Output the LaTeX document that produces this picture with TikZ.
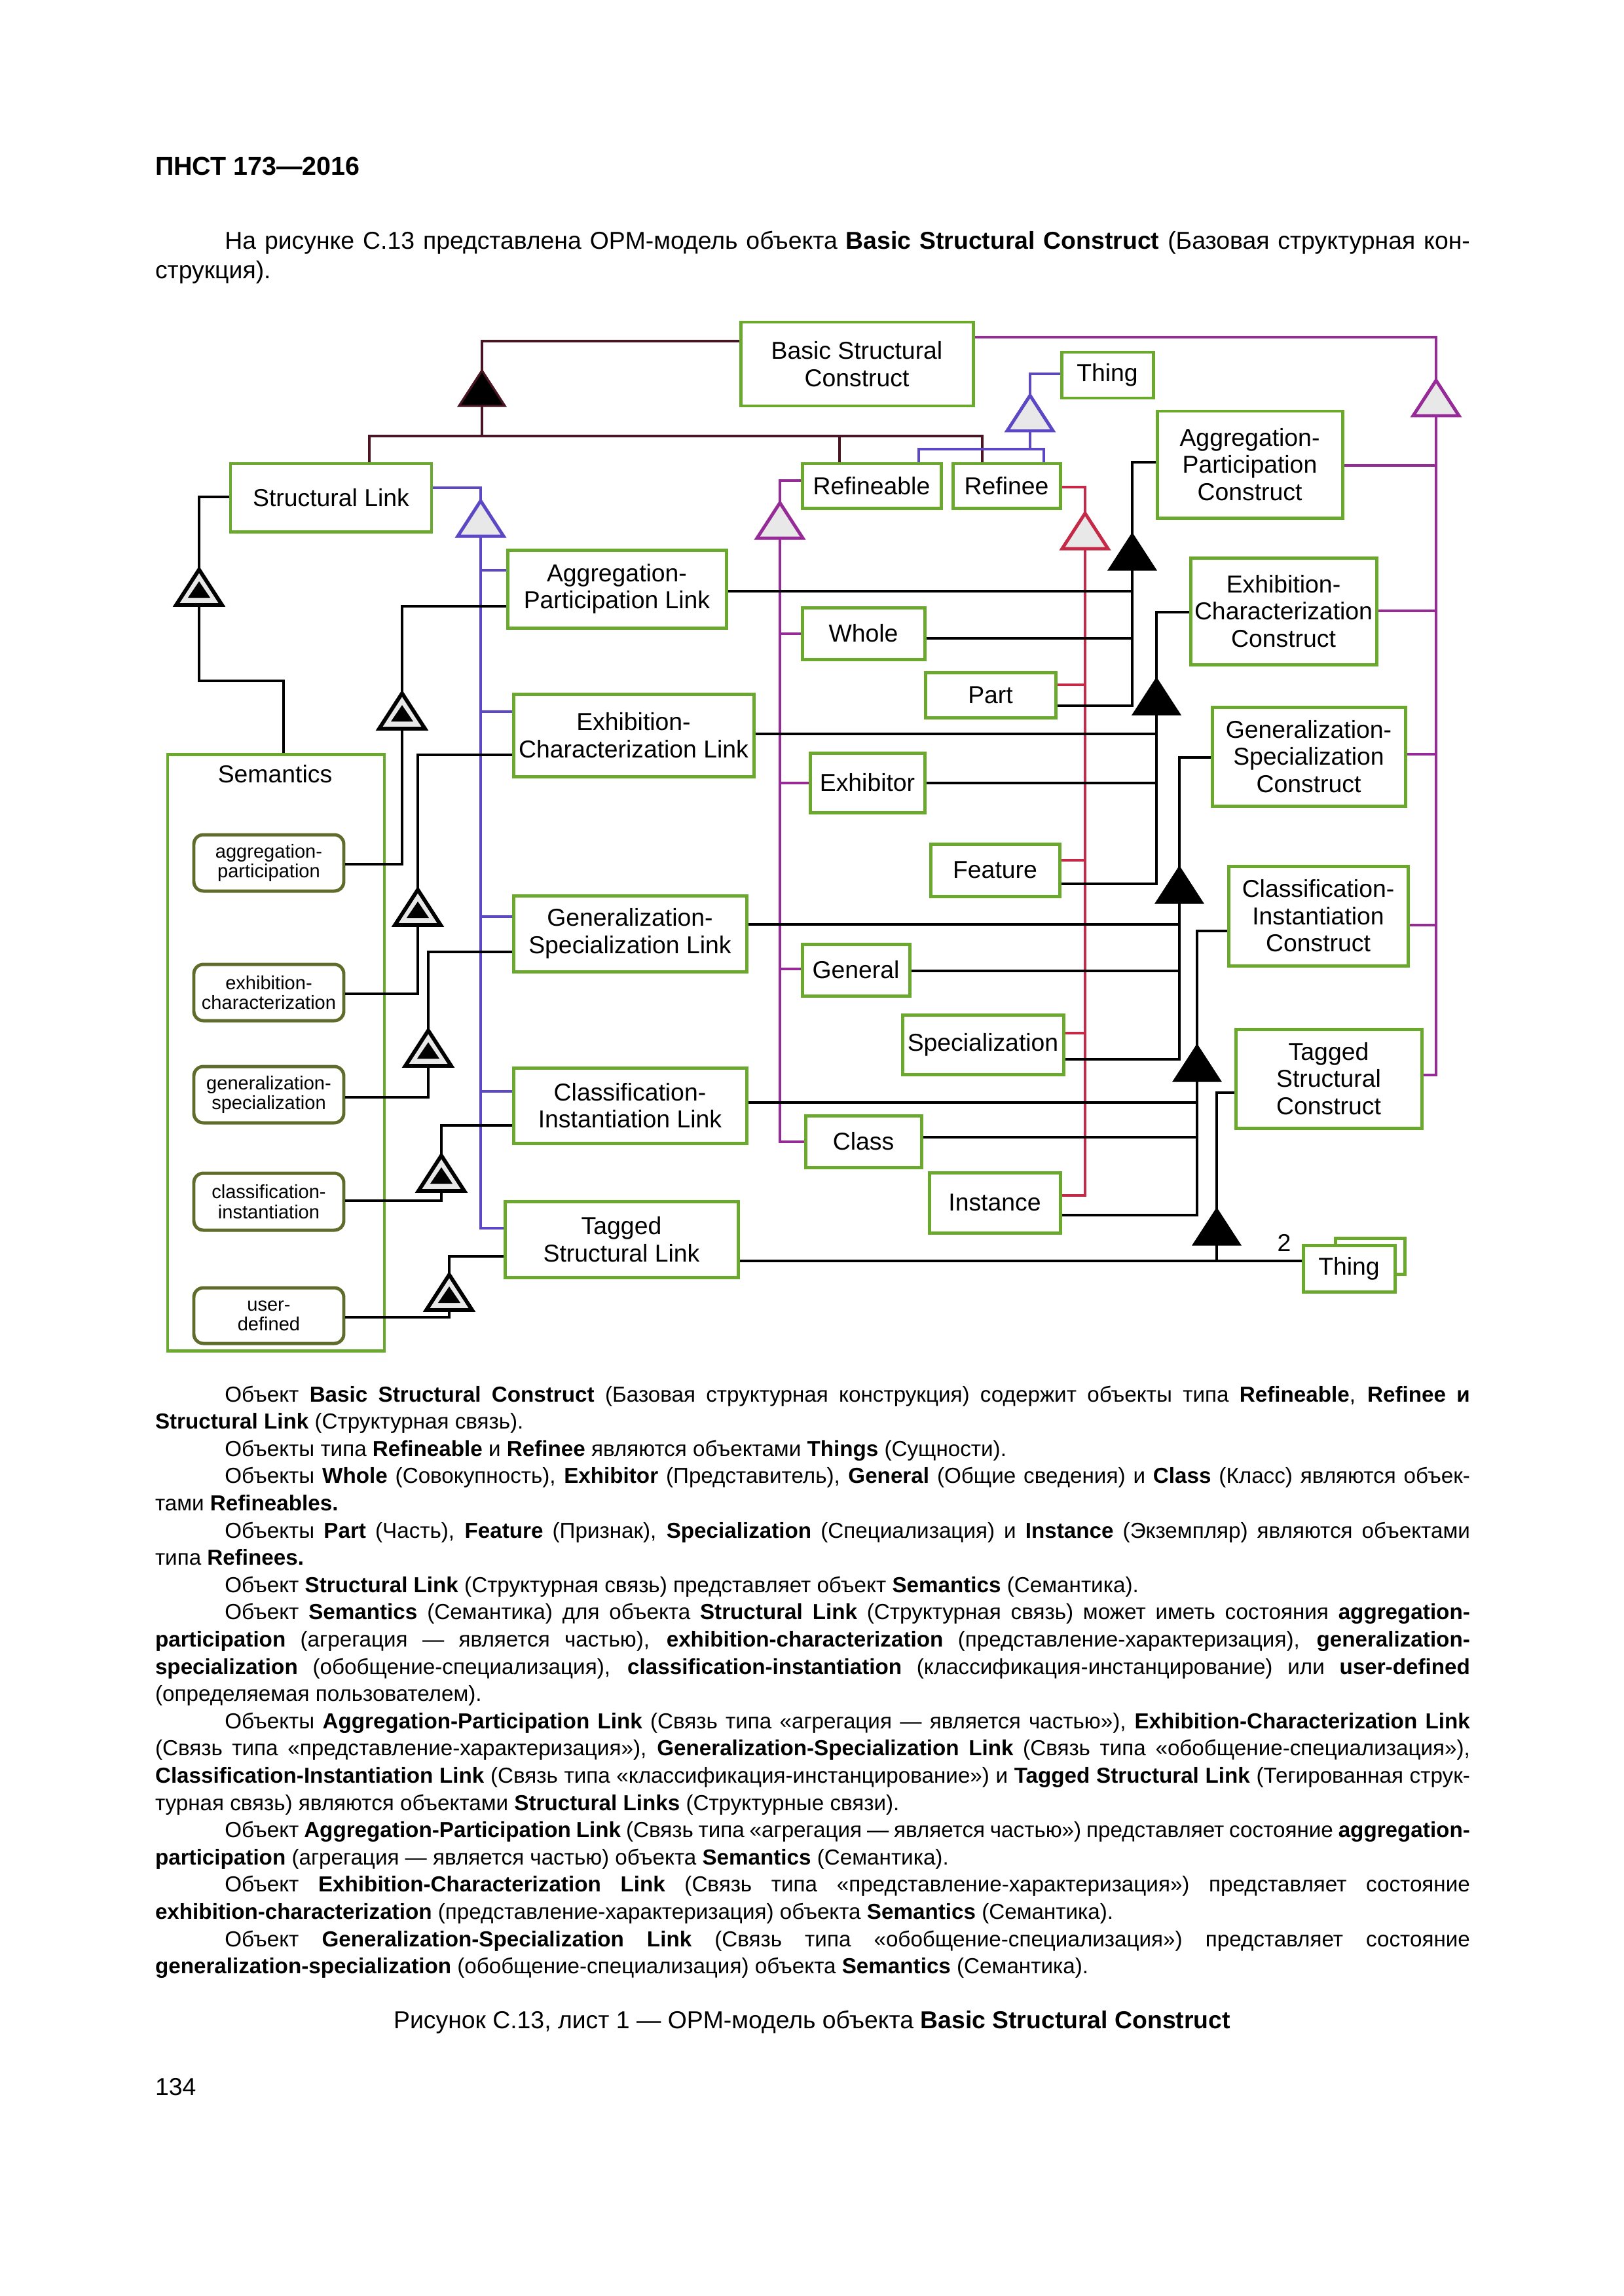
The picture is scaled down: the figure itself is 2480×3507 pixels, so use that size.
\documentclass[tikz,border=0pt]{standalone}
\usepackage{fontspec}
\setmainfont{Liberation Sans}

\definecolor{boxgreen}{RGB}{106,168,46}
\definecolor{stategreen}{RGB}{96,108,44}
\definecolor{oblue}{RGB}{92,72,196}
\definecolor{omag}{RGB}{150,42,150}
\definecolor{ored}{RGB}{196,42,72}
\definecolor{odark}{RGB}{72,22,34}
\definecolor{trigray}{RGB}{232,232,232}

\newlength{\pxu}
\setlength{\pxu}{0.0846774mm}
\newcommand{\fullline}[1]{\makebox[170mm][s]{#1}}
\newcommand{\indline}[1]{\makebox[161mm][s]{#1}}

\tikzset{
  gentri/.pic={\draw[fill=trigray, line width=1.2pt] (0,0) -- (-35,54) -- (35,54) -- cycle;
    \coordinate (-a) at (0,0); \coordinate (-b) at (0,54);},
  aggtri/.pic={\draw[fill=black, line width=0.8pt] (0,0) -- (-35,54) -- (35,54) -- cycle;
    \coordinate (-a) at (0,0); \coordinate (-b) at (0,54);},
  exhtri/.pic={\draw[fill=trigray, line width=1.4pt] (0,0) -- (-35,54) -- (35,54) -- cycle;
    \fill (0,18) -- (-17,43) -- (17,43) -- cycle;
    \coordinate (-a) at (0,0); \coordinate (-b) at (0,54);},
}

\begin{document}
\begin{tikzpicture}[x=\pxu, y=-0.0846774mm,
    sz/.style 2 args={minimum width=#1*\pxu, minimum height=#2*\pxu},
    dline/.style={draw=odark, line width=0.95pt},
    bline/.style={draw=oblue, line width=0.95pt},
    mline/.style={draw=omag, line width=0.95pt},
    rline/.style={draw=ored, line width=0.95pt},
    kline/.style={draw=black, line width=0.8pt},
    txt/.style={anchor=base west, inner sep=0pt, font=\fontsize{8}{10}\selectfont}]
    \tikzstyle{obj} = [draw=boxgreen, line width=1.2pt, fill=white, inner sep=0pt, align=center, font=\fontsize{9}{10}\selectfont]
    \tikzstyle{state} = [draw=stategreen, line width=1.2pt, fill=white, rounded corners=3.5pt, inner sep=0pt, align=center, font=\fontsize{7}{7.3}\selectfont]
    \tikzstyle{lbl} = [inner sep=0pt, font=\fontsize{9}{10}\selectfont]

    \path[fill=white, use as bounding box] (0,0) rectangle (2480,3507);

    % page head and intro
    \node[txt, font=\fontsize{9.5}{11}\selectfont\bfseries] (hdr) at (236.2,267) {ПНСТ 173—2016};
    \node[txt, font=\fontsize{9}{11}\selectfont] (intro1) at (342.5,380) {\indline{На рисунке С.13 представлена OPM-модель объекта \textbf{Basic Structural Construct} (Базовая структурная кон-}};
    \node[txt, font=\fontsize{9}{11}\selectfont] (intro2) at (236.2,425) {струкция).};

    % things of the model
    \node[obj, sz={355}{128}] (bsc) at (1308.5,556) {Basic Structural\\Construct};
    \node[obj, sz={140}{70}] (thingt) at (1691,573) {Thing};
    \node[obj, sz={212}{68}] (refineable) at (1331,742) {Refineable};
    \node[obj, sz={164}{68}] (refinee) at (1537,742) {Refinee};
    \node[obj, sz={307}{104}] (strlink) at (505.5,760) {Structural Link};

    % constructs (right column)
    \node[obj, sz={283}{163}] (apc) at (1908.5,709.5) {Aggregation-\\Participation\\Construct};
    \node[obj, sz={284}{163}] (eccons) at (1960,933.5) {Exhibition-\\Characterization\\Construct};
    \node[obj, sz={295}{151}] (gscons) at (1998.5,1155.5) {Generalization-\\Specialization\\Construct};
    \node[obj, sz={274}{152}] (cicons) at (2013,1399) {Classification-\\Instantiation\\Construct};
    \node[obj, sz={284}{151}] (tscons) at (2029,1647.5) {Tagged\\Structural\\Construct};

    % links (middle column)
    \node[obj, sz={334}{119}] (aplink) at (942,899.5) {Aggregation-\\Participation Link};
    \node[obj, sz={367}{126}] (eclink) at (967.5,1123) {Exhibition-\\Characterization Link};
    \node[obj, sz={356}{116}] (gslink) at (962,1426) {Generalization-\\Specialization Link};
    \node[obj, sz={356}{115}] (cilink) at (962,1688.5) {Classification-\\Instantiation Link};
    \node[obj, sz={356}{116}] (tlink) at (949,1893) {Tagged\\Structural Link};

    % refineables and refinees
    \node[obj, sz={187}{79}] (whole) at (1318.5,967.5) {Whole};
    \node[obj, sz={199}{69}] (part) at (1512.5,1061.5) {Part};
    \node[obj, sz={175}{91}] (exhibitor) at (1324.5,1195.5) {Exhibitor};
    \node[obj, sz={197}{80}] (feature) at (1519.5,1329) {Feature};
    \node[obj, sz={164}{79}] (general) at (1307,1481.5) {General};
    \node[obj, sz={246}{91}] (special) at (1501,1595.5) {Specialization};
    \node[obj, sz={177}{79}] (class) at (1318.5,1743.5) {Class};
    \node[obj, sz={200}{92}] (instance) at (1519,1837) {Instance};
    \node[obj, sz={106}{55}] (thingbk) at (2092,1918.5) {};
    \node[obj, sz={140}{71}] (thingb) at (2060,1937.5) {Thing};
    \node[lbl] (mult) at (1961,1898) {2};

    % Semantics and its states
    \node[obj, sz={331}{911}] (sem) at (421.5,1607.5) {};
    \node[lbl, anchor=base] (semlbl) at (420,1195) {Semantics};
    \node[state, sz={229}{86}] (sap) at (410.5,1318) {aggregation-\\participation};
    \node[state, sz={229}{86}] (sec) at (410.5,1516) {exhibition-\\characterization};
    \node[state, sz={229}{86}] (sgs) at (410.5,1672) {generalization-\\specialization};
    \node[state, sz={229}{87}] (sci) at (410.5,1835.5) {classification-\\instantiation};
    \node[state, sz={229}{85}] (sud) at (410.5,2009.5) {user-\\defined};

    % Basic Structural Construct consists of
    \pic[odark] (abc) at (736,566) {aggtri};
    \coordinate (barL) at (564,666);
    \coordinate (barR) at (1500,666);
    \draw[dline] (bsc.west |- 0,521) -| (abc-a);
    \draw[dline] (abc-b) -- (abc-b |- barL);
    \draw[dline] (strlink.north -| barL) |- (barR) -- (refinee.north -| barR);
    \draw[dline] (refineable.north -| 1282,0) -- (1282,666);

    % Refineable and Refinee are Things
    \pic[oblue] (gth) at (1573,604) {gentri};
    \coordinate (thbus) at (1573,686);
    \draw[bline] (thingt.west |- 0,571) -| (gth-a);
    \draw[bline] (gth-b) -- (thbus);
    \draw[bline] (refineable.north -| 1403,0) |- (1594,686) -- (refinee.north -| 1594,0);

    % kinds of Structural Link
    \pic[oblue] (gsl) at (734,765) {gentri};
    \draw[bline] (strlink.east |- 0,745) -| (gsl-a);
    \draw[bline] (gsl-b) |- (tlink.west |- 0,1876);
    \draw[bline] (gsl-b |- 0,871) -- (aplink.west |- 0,871);
    \draw[bline] (gsl-b |- 0,1087) -- (eclink.west |- 0,1087);
    \draw[bline] (gsl-b |- 0,1400) -- (gslink.west |- 0,1400);
    \draw[bline] (gsl-b |- 0,1667) -- (cilink.west |- 0,1667);

    % kinds of Refineable
    \pic[omag] (grf) at (1191,768) {gentri};
    \draw[mline] (refineable.west |- 0,734) -| (grf-a);
    \draw[mline] (grf-b) |- (class.west |- 0,1744);
    \draw[mline] (grf-b |- 0,968) -- (whole.west |- 0,968);
    \draw[mline] (grf-b |- 0,1196) -- (exhibitor.west |- 0,1196);
    \draw[mline] (grf-b |- 0,1480) -- (general.west |- 0,1480);

    % kinds of Refinee
    \pic[ored] (grn) at (1657,784) {gentri};
    \draw[rline] (refinee.east |- 0,744) -| (grn-a);
    \draw[rline] (grn-b) |- (instance.east |- 0,1826);
    \draw[rline] (part.east |- 0,1046) -- (grn-b |- 0,1046);
    \draw[rline] (feature.east |- 0,1314) -- (grn-b |- 0,1314);
    \draw[rline] (special.east |- 0,1578) -- (grn-b |- 0,1578);

    % kinds of Basic Structural Construct
    \pic[omag] (gbc) at (2193,581) {gentri};
    \draw[mline] (bsc.east |- 0,515) -| (gbc-a);
    \draw[mline] (gbc-b) |- (tscons.east |- 0,1642);
    \draw[mline] (apc.east |- 0,711) -- (gbc-b |- 0,711);
    \draw[mline] (eccons.east |- 0,933) -- (gbc-b |- 0,933);
    \draw[mline] (gscons.east |- 0,1152) -- (gbc-b |- 0,1152);
    \draw[mline] (cicons.east |- 0,1413) -- (gbc-b |- 0,1413);

    % each construct consists of a link and its two things
    \pic (aap) at (1729,816) {aggtri};
    \draw[kline] (apc.west |- 0,706) -| (aap-a);
    \draw[kline] (aap-b) |- (part.east |- 0,1078);
    \draw[kline] (aplink.east |- 0,903) -- (aap-b |- 0,903);
    \draw[kline] (whole.east |- 0,975) -- (aap-b |- 0,975);

    \pic (aec) at (1766,1037) {aggtri};
    \draw[kline] (eccons.west |- 0,935) -| (aec-a);
    \draw[kline] (aec-b) |- (feature.east |- 0,1350);
    \draw[kline] (eclink.east |- 0,1121) -- (aec-b |- 0,1121);
    \draw[kline] (exhibitor.east |- 0,1196) -- (aec-b |- 0,1196);

    \pic (ags) at (1801,1325) {aggtri};
    \draw[kline] (gscons.west |- 0,1157) -| (ags-a);
    \draw[kline] (ags-b) |- (special.east |- 0,1618);
    \draw[kline] (gslink.east |- 0,1412) -- (ags-b |- 0,1412);
    \draw[kline] (general.east |- 0,1483) -- (ags-b |- 0,1483);

    \pic (aci) at (1828,1597) {aggtri};
    \draw[kline] (cicons.west |- 0,1422) -| (aci-a);
    \draw[kline] (aci-b) |- (instance.east |- 0,1856);
    \draw[kline] (cilink.east |- 0,1684) -- (aci-b |- 0,1684);
    \draw[kline] (class.east |- 0,1737) -- (aci-b |- 0,1737);

    \pic (ats) at (1858,1847) {aggtri};
    \draw[kline] (tscons.west |- 0,1669) -| (ats-a);
    \draw[kline] (ats-b) -- (ats-b |- 0,1926);
    \draw[kline] (tlink.east |- 0,1926) -- (thingb.west |- 0,1926);

    % Semantics and its states
    \pic (esl) at (304,870) {exhtri};
    \coordinate (semjoin) at (433,1040);
    \draw[kline] (strlink.west |- 0,759) -| (esl-a);
    \draw[kline] (esl-b) |- (semjoin) -- (sem.north -| semjoin);

    \pic (eap) at (614,1059) {exhtri};
    \draw[kline] (aplink.west |- 0,926) -| (eap-a);
    \draw[kline] (eap-b) |- (sap.east |- 0,1320);

    \pic (eec) at (638,1359) {exhtri};
    \draw[kline] (eclink.west |- 0,1153) -| (eec-a);
    \draw[kline] (eec-b) |- (sec.east |- 0,1518);

    \pic (egs) at (654,1574) {exhtri};
    \draw[kline] (gslink.west |- 0,1454) -| (egs-a);
    \draw[kline] (egs-b) |- (sgs.east |- 0,1676);

    \pic (eci) at (674,1765) {exhtri};
    \draw[kline] (cilink.west |- 0,1719) -| (eci-a);
    \draw[kline] (eci-b) |- (sci.east |- 0,1834);

    \pic (etl) at (686,1947) {exhtri};
    \draw[kline] (tlink.west |- 0,1919) -| (etl-a);
    \draw[kline] (etl-b) |- (sud.east |- 0,2012);

    % text under the figure
    \node[txt] (l0) at (342.5,2141) {\indline{Объект \textbf{Basic Structural Construct} (Базовая структурная конструкция) содержит объекты типа \textbf{Refineable}, \textbf{Refinee и}}};
    \node[txt] (l1) at (236.2,2182.6) {\textbf{Structural Link} (Структурная связь).};
    \node[txt] (l2) at (342.5,2224.2) {Объекты типа \textbf{Refineable} и \textbf{Refinee} являются объектами \textbf{Things} (Сущности).};
    \node[txt] (l3) at (342.5,2265.8) {\indline{Объекты \textbf{Whole} (Совокупность), \textbf{Exhibitor} (Представитель), \textbf{General} (Общие сведения) и \textbf{Class} (Класс) являются объек-}};
    \node[txt] (l4) at (236.2,2307.4) {тами \textbf{Refineables.}};
    \node[txt] (l5) at (342.5,2349) {\indline{Объекты \textbf{Part} (Часть), \textbf{Feature} (Признак), \textbf{Specialization} (Специализация) и \textbf{Instance} (Экземпляр) являются объектами}};
    \node[txt] (l6) at (236.2,2390.6) {типа \textbf{Refinees.}};
    \node[txt] (l7) at (342.5,2432.2) {Объект \textbf{Structural Link} (Структурная связь) представляет объект \textbf{Semantics} (Семантика).};
    \node[txt] (l8) at (342.5,2473.8) {\indline{Объект \textbf{Semantics} (Семантика) для объекта \textbf{Structural Link} (Структурная связь) может иметь состояния \textbf{aggregation-}}};
    \node[txt] (l9) at (236.2,2515.4) {\fullline{\textbf{participation} (агрегация — является частью), \textbf{exhibition-characterization} (представление-характеризация), \textbf{generalization-}}};
    \node[txt] (l10) at (236.2,2557) {\fullline{\textbf{specialization} (обобщение-специализация), \textbf{classification-instantiation} (классификация-инстанцирование) или \textbf{user-defined}}};
    \node[txt] (l11) at (236.2,2598.6) {(определяемая пользователем).};
    \node[txt] (l12) at (342.5,2640.2) {\indline{Объекты \textbf{Aggregation-Participation Link} (Связь типа «агрегация — является частью»), \textbf{Exhibition-Characterization Link}}};
    \node[txt] (l13) at (236.2,2681.8) {\fullline{(Связь типа «представление-характеризация»), \textbf{Generalization-Specialization Link} (Связь типа «обобщение-специализация»),}};
    \node[txt] (l14) at (236.2,2723.4) {\fullline{\textbf{Classification-Instantiation Link} (Связь типа «классификация-инстанцирование») и \textbf{Tagged Structural Link} (Тегированная струк-}};
    \node[txt] (l15) at (236.2,2765) {турная связь) являются объектами \textbf{Structural Links} (Структурные связи).};
    \node[txt] (l16) at (342.5,2806.6) {\indline{Объект \textbf{Aggregation-Participation Link} (Связь типа «агрегация — является частью») представляет состояние \textbf{aggregation-}}};
    \node[txt] (l17) at (236.2,2848.2) {\textbf{participation} (агрегация — является частью) объекта \textbf{Semantics} (Семантика).};
    \node[txt] (l18) at (342.5,2889.8) {\indline{Объект \textbf{Exhibition-Characterization Link} (Связь типа «представление-характеризация») представляет состояние}};
    \node[txt] (l19) at (236.2,2931.4) {\textbf{exhibition-characterization} (представление-характеризация) объекта \textbf{Semantics} (Семантика).};
    \node[txt] (l20) at (342.5,2973) {\indline{Объект \textbf{Generalization-Specialization Link} (Связь типа «обобщение-специализация») представляет состояние}};
    \node[txt] (l21) at (236.2,3014.6) {\textbf{generalization-specialization} (обобщение-специализация) объекта \textbf{Semantics} (Семантика).};

    % caption and page number
    \node[anchor=base, inner sep=0pt, font=\fontsize{9}{11}\selectfont] (caption) at (1240,3098) {Рисунок С.13, лист 1 — OPM-модель объекта \textbf{Basic Structural Construct}};
    \node[txt, font=\fontsize{9}{11}\selectfont] (pgnum) at (236.2,3200) {134};
\end{tikzpicture}
\end{document}
